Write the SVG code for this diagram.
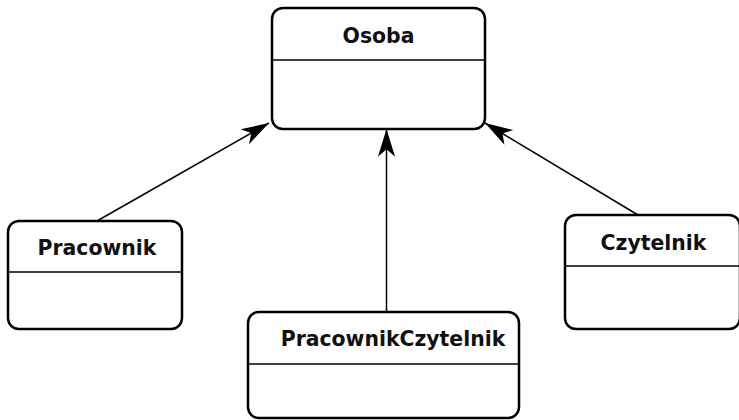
<svg xmlns="http://www.w3.org/2000/svg" width="739" height="420" viewBox="0 0 739 420">
<style>
.box{fill:#fff;stroke:#000;stroke-width:2.5}
.div{stroke:#000;stroke-width:1.5}
.lbl{font-family:"DejaVu Sans",Verdana,sans-serif;font-weight:bold;font-size:20.4px;fill:#111}
.edge{stroke:#000;stroke-width:1.5;fill:none;marker-end:url(#arr)}
</style>
<defs>
<marker id="arr" markerUnits="userSpaceOnUse" markerWidth="30" markerHeight="20" viewBox="-27 -9 28 18" refX="0" refY="0" orient="auto">
<path d="M0,0 L-26,-8 L-19,0 L-26,8 Z" fill="#000"/>
</marker>
</defs>
<g id="edges">
<line class="edge" x1="97" y1="221" x2="269" y2="123"/>
<line class="edge" x1="386.5" y1="312" x2="386.5" y2="129"/>
<line class="edge" x1="638" y1="215" x2="485" y2="123"/>
</g>
<g id="Osoba">
<rect class="box" x="272" y="8" width="213" height="121" rx="11"/>
<line class="div" x1="272" y1="60" x2="485" y2="60"/>
<text class="lbl" x="378.5" y="43" text-anchor="middle">Osoba</text>
</g>
<g id="Pracownik">
<rect class="box" x="8" y="221" width="174" height="108" rx="11"/>
<line class="div" x1="8" y1="272" x2="182" y2="272"/>
<text class="lbl" x="97" y="255" text-anchor="middle">Pracownik</text>
</g>
<g id="PracownikCzytelnik">
<rect class="box" x="248" y="312" width="271" height="106" rx="11"/>
<line class="div" x1="248" y1="364" x2="519" y2="364"/>
<text class="lbl" x="393" y="346" text-anchor="middle">PracownikCzytelnik</text>
</g>
<g id="Czytelnik">
<rect class="box" x="565" y="215" width="175" height="114" rx="11"/>
<line class="div" x1="565" y1="266" x2="740" y2="266"/>
<text class="lbl" x="653.5" y="250" text-anchor="middle">Czytelnik</text>
</g>
</svg>
